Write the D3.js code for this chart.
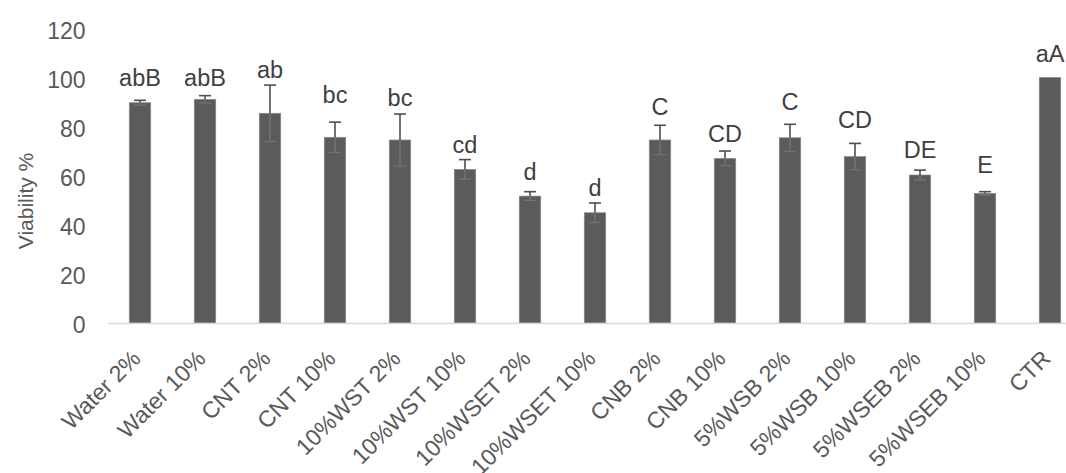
<!DOCTYPE html>
<html>
<head>
<meta charset="utf-8">
<script src="https://cdn.jsdelivr.net/npm/d3@7"></script>
<style>
  html, body { margin: 0; padding: 0; background: #fff; overflow: hidden; }
  svg { display: block; font-family: "Liberation Sans", Arial, Helvetica, sans-serif; }
</style>
</head>
<body>
<svg id="chart" width="1066" height="473"></svg>
<script>
const categories = ["Water 2%", "Water 10%", "CNT 2%", "CNT 10%", "10%WST 2%", "10%WST 10%",
  "10%WSET 2%", "10%WSET 10%", "CNB 2%", "CNB 10%", "5%WSB 2%", "5%WSB 10%",
  "5%WSEB 2%", "5%WSEB 10%", "CTR"];
const viability = [89.9, 91.3, 85.6, 75.8, 74.7, 62.7, 51.8, 45.0, 74.7, 67.2, 75.6, 67.9, 60.4, 52.9, 100.2];
const errors    = [1.0, 1.5, 11.5, 6.2, 10.6, 4.0, 1.8, 4.0, 6.0, 3.0, 5.5, 5.4, 2.0, 0.7, 0];
const letters   = ["abB", "abB", "ab", "bc", "bc", "cd", "d", "d", "C", "CD", "C", "CD", "DE", "E", "aA"];
const letterAt  = [96.7, 96.7, 100, 89.7, 88.7, 69.3, 58.4, 52.0, 84.9, 74.0, 86.9, 79.5, 67.2, 61.3, 106.6];
const yTicks    = [0, 20, 40, 60, 80, 100, 120];
const yTitle    = "Viability %";

const svg = d3.select("#chart");
const x = d3.scaleBand().domain(categories).range([107.5, 1082.5]).paddingInner(0.67).paddingOuter(0.335);
const y = d3.scaleLinear().domain([0, 120]).range([323, 29]);

// y axis labels (no line, no ticks)
const yAxis = svg.append("g").attr("transform", "translate(85.5,1)")
  .call(d3.axisLeft(y).tickValues(yTicks).tickSize(0).tickPadding(0));
yAxis.select(".domain").remove();
yAxis.selectAll("text").attr("fill", "#595959").style("font-size", "23px")
  .attr("font-family", "'Liberation Sans', Arial, sans-serif").attr("dy", "0.36em");

// y title
svg.append("text")
  .attr("transform", "translate(33,201) rotate(-90)")
  .attr("text-anchor", "middle")
  .attr("fill", "#595959").style("font-size", "21px")
  .text(yTitle);

// bars
const data = categories.map((c, i) => ({ c, v: viability[i], e: errors[i], l: letters[i], la: letterAt[i] }));
svg.append("g").selectAll("rect").data(data).join("rect")
  .attr("x", d => x(d.c)).attr("width", x.bandwidth())
  .attr("y", d => y(d.v)).attr("height", d => y(0) - y(d.v))
  .attr("fill", "#5b5b5b").attr("stroke", "#8a8a8a").attr("stroke-width", 0.7);

// x axis line
const xAxis = svg.append("g").attr("transform", `translate(0,${y(0)})`)
  .call(d3.axisBottom(x).tickSize(0).tickFormat(""));
xAxis.select(".domain").attr("stroke", "#d9d9d9").attr("stroke-width", 1.6);

// error bars
const eg = svg.append("g").selectAll("g").data(data.filter(d => d.e > 0)).join("g");
const cx = d => x(d.c) + x.bandwidth() / 2;
eg.append("line").attr("x1", cx).attr("x2", cx)
  .attr("y1", d => y(d.v)).attr("y2", d => y(d.v - d.e))
  .attr("stroke", "#727272").attr("stroke-width", 1.5);
eg.append("line").attr("x1", cx).attr("x2", cx)
  .attr("y1", d => y(d.v + d.e)).attr("y2", d => y(d.v))
  .attr("stroke", "#4f4f4f").attr("stroke-width", 1.6);
eg.append("line").attr("x1", d => cx(d) - 6).attr("x2", d => cx(d) + 6)
  .attr("y1", d => y(d.v + d.e)).attr("y2", d => y(d.v + d.e))
  .attr("stroke", "#4f4f4f").attr("stroke-width", 1.6);
eg.append("line").attr("x1", d => cx(d) - 6).attr("x2", d => cx(d) + 6)
  .attr("y1", d => y(d.v - d.e)).attr("y2", d => y(d.v - d.e))
  .attr("stroke", "#727272").attr("stroke-width", 1.3);

// letters
svg.append("g").selectAll("text").data(data).join("text")
  .attr("x", cx).attr("y", d => y(d.la))
  .attr("text-anchor", "middle").attr("fill", "#3f3f3f").style("font-size", "23.5px")
  .text(d => d.l);

// x tick labels, rotated
svg.append("g").selectAll("text").data(data).join("text")
  .attr("transform", d => `translate(${cx(d) + 2},${y(0) + 37}) rotate(-45)`)
  .attr("text-anchor", "end").attr("fill", "#595959").style("font-size", "23px")
  .text(d => d.c);
</script>
</body>
</html>
